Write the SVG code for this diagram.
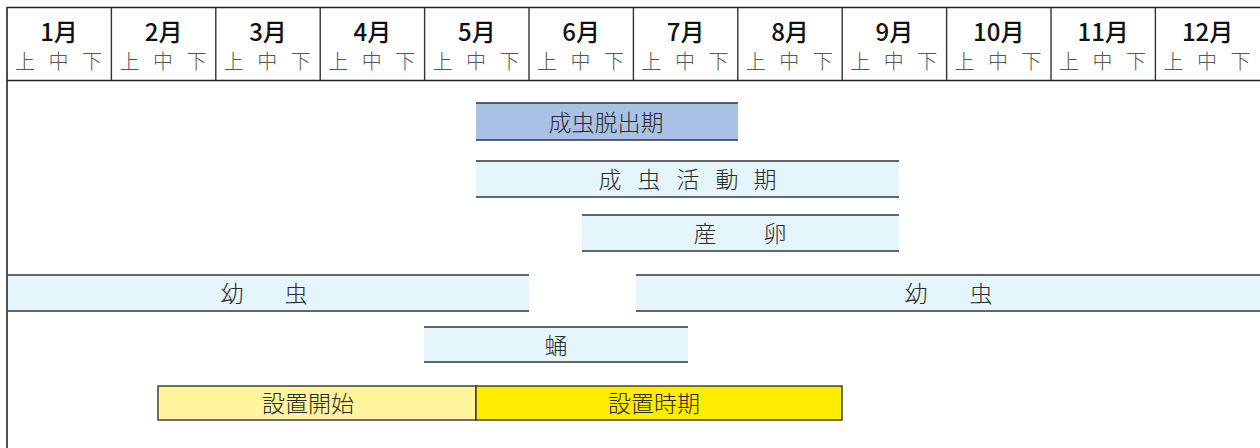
<svg xmlns="http://www.w3.org/2000/svg" width="1260" height="448" viewBox="0 0 1260 448">
<style>
.frame{stroke:#222;stroke-width:1.6;fill:none}
.div{stroke:#333;stroke-width:1.4}
.mon{font-family:"Noto Sans CJK JP",sans-serif;font-size:24px;font-weight:500;fill:#111;text-anchor:middle}
.dek{font-family:"Noto Sans CJK JP",sans-serif;font-size:20px;font-weight:300;fill:#555;text-anchor:middle}
.lbl{font-family:"Noto Sans CJK JP",sans-serif;font-size:23px;font-weight:300;fill:#2a2a2a;text-anchor:middle}
.bl{stroke:#333;stroke-width:1.6}
.cyan{fill:#e4f5fb}
.blue{fill:#a9c1e6}
.box{stroke:#333;stroke-width:1.4}
</style>
<rect width="1260" height="448" fill="#fff"/>
<g id="header">
<line class="frame" x1="7" y1="7.5" x2="1260" y2="7.5"/>
<line class="frame" x1="7" y1="7" x2="7" y2="448"/>
<line class="frame" x1="7" y1="80.5" x2="1260" y2="80.5"/>
<g class="div">
<line x1="111.4" y1="8" x2="111.4" y2="80"/>
<line x1="215.8" y1="8" x2="215.8" y2="80"/>
<line x1="320.2" y1="8" x2="320.2" y2="80"/>
<line x1="424.6" y1="8" x2="424.6" y2="80"/>
<line x1="529" y1="8" x2="529" y2="80"/>
<line x1="633.4" y1="8" x2="633.4" y2="80"/>
<line x1="737.8" y1="8" x2="737.8" y2="80"/>
<line x1="842.2" y1="8" x2="842.2" y2="80"/>
<line x1="946.6" y1="8" x2="946.6" y2="80"/>
<line x1="1051" y1="8" x2="1051" y2="80"/>
<line x1="1155.4" y1="8" x2="1155.4" y2="80"/>
</g>
<g class="mon">
<text x="59" y="41">1月</text>
<text x="163.6" y="41">2月</text>
<text x="268" y="41">3月</text>
<text x="372.4" y="41">4月</text>
<text x="476.8" y="41">5月</text>
<text x="581.2" y="41">6月</text>
<text x="685.6" y="41">7月</text>
<text x="790" y="41">8月</text>
<text x="894.4" y="41">9月</text>
<text x="998.8" y="41">10月</text>
<text x="1103.2" y="41">11月</text>
<text x="1207.6" y="41">12月</text>
</g>
<g class="dek">
<text x="25" y="69">上</text><text x="58.5" y="69">中</text><text x="92" y="69">下</text>
<text x="129.4" y="69">上</text><text x="162.9" y="69">中</text><text x="196.4" y="69">下</text>
<text x="233.8" y="69">上</text><text x="267.3" y="69">中</text><text x="300.8" y="69">下</text>
<text x="338.2" y="69">上</text><text x="371.7" y="69">中</text><text x="405.2" y="69">下</text>
<text x="442.6" y="69">上</text><text x="476.1" y="69">中</text><text x="509.6" y="69">下</text>
<text x="547" y="69">上</text><text x="580.5" y="69">中</text><text x="614" y="69">下</text>
<text x="651.4" y="69">上</text><text x="684.9" y="69">中</text><text x="718.4" y="69">下</text>
<text x="755.8" y="69">上</text><text x="789.3" y="69">中</text><text x="822.8" y="69">下</text>
<text x="860.2" y="69">上</text><text x="893.7" y="69">中</text><text x="927.2" y="69">下</text>
<text x="964.6" y="69">上</text><text x="998.1" y="69">中</text><text x="1031.6" y="69">下</text>
<text x="1069" y="69">上</text><text x="1102.5" y="69">中</text><text x="1136" y="69">下</text>
<text x="1173.4" y="69">上</text><text x="1206.9" y="69">中</text><text x="1240.4" y="69">下</text>
</g>
</g>
<g id="emergence">
<rect class="blue" x="476" y="103" width="262" height="37"/>
<line class="bl" x1="476" y1="103" x2="738" y2="103"/>
<line class="bl" x1="476" y1="140" x2="738" y2="140"/>
<text class="lbl" x="606" y="131">成虫脱出期</text>
</g>
<g id="activity">
<rect class="cyan" x="476" y="161" width="423" height="36"/>
<line class="bl" x1="476" y1="161" x2="899" y2="161"/>
<line class="bl" x1="476" y1="197" x2="899" y2="197"/>
<text class="lbl" x="687" y="188"><tspan x="610">成</tspan><tspan x="649">虫</tspan><tspan x="688">活</tspan><tspan x="727">動</tspan><tspan x="765">期</tspan></text>
</g>
<g id="egg">
<rect class="cyan" x="582" y="215" width="317" height="36"/>
<line class="bl" x1="582" y1="215" x2="899" y2="215"/>
<line class="bl" x1="582" y1="251" x2="899" y2="251"/>
<text class="lbl" x="705" y="242">産</text>
<text class="lbl" x="775" y="242">卵</text>
</g>
<g id="larva-left">
<rect class="cyan" x="8" y="275" width="521" height="36"/>
<line class="bl" x1="8" y1="275" x2="529" y2="275"/>
<line class="bl" x1="8" y1="311" x2="529" y2="311"/>
<text class="lbl" x="232" y="302">幼</text>
<text class="lbl" x="296" y="302">虫</text>
</g>
<g id="larva-right">
<rect class="cyan" x="636" y="275" width="624" height="36"/>
<line class="bl" x1="636" y1="275" x2="1260" y2="275"/>
<line class="bl" x1="636" y1="311" x2="1260" y2="311"/>
<text class="lbl" x="916" y="302">幼</text>
<text class="lbl" x="981" y="302">虫</text>
</g>
<g id="pupa">
<rect class="cyan" x="424" y="327" width="264" height="35"/>
<line class="bl" x1="424" y1="327" x2="688" y2="327"/>
<line class="bl" x1="424" y1="362" x2="688" y2="362"/>
<text class="lbl" x="556" y="354">蛹</text>
</g>
<g id="setup-start">
<rect class="box" x="158" y="386" width="318" height="34" fill="#fff59c"/>
<text class="lbl" x="308" y="412">設置開始</text>
</g>
<g id="setup-period">
<rect class="box" x="476" y="386" width="366" height="34" fill="#ffec00"/>
<text class="lbl" x="654" y="412">設置時期</text>
</g>
<g id="connectors"></g>
</svg>
